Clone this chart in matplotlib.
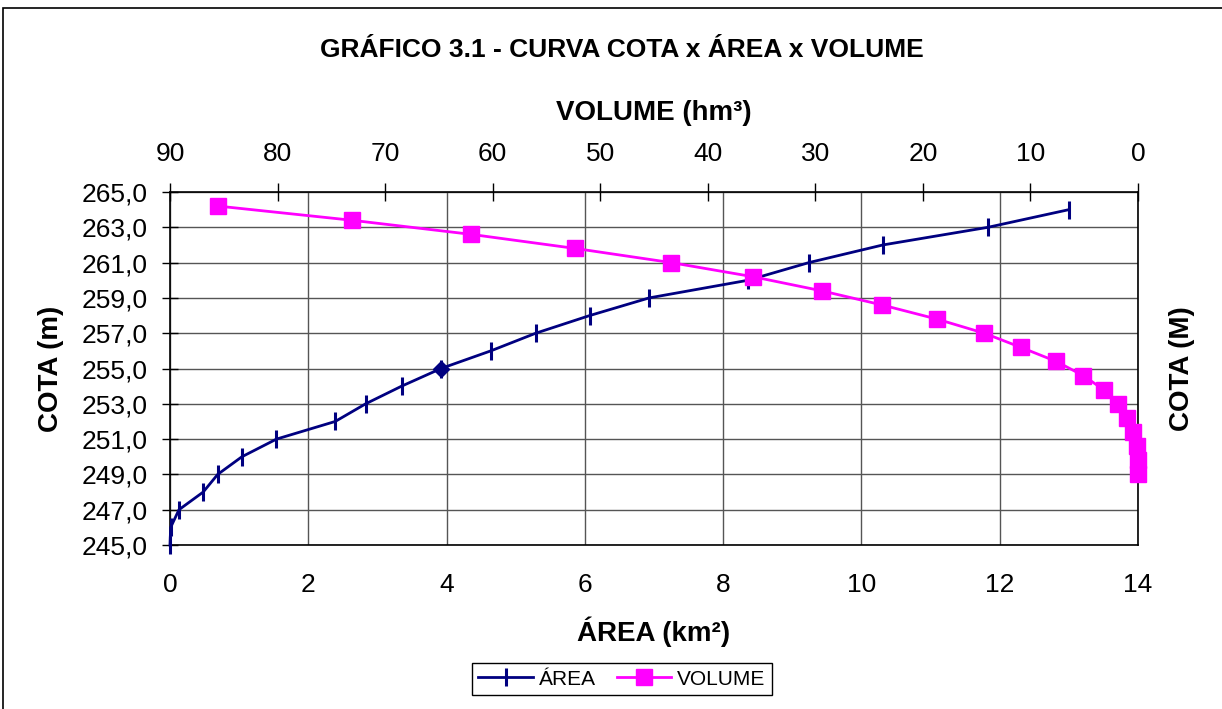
import matplotlib
matplotlib.use("Agg")
import matplotlib.pyplot as plt
from matplotlib.patches import Rectangle
from matplotlib.lines import Line2D

plt.rcParams['font.family'] = ['Liberation Sans', 'DejaVu Sans']

## elevations (m) for both curves
cota = [245, 246, 247, 248, 249, 250, 251, 252, 253, 254,
        255, 256, 257, 258, 259, 260, 261, 262, 263, 264]

## area (km2) at each elevation
area = [0.0, 0.01, 0.13, 0.48, 0.69, 1.04, 1.54, 2.39, 2.83, 3.35,
        3.92, 4.64, 5.29, 6.07, 6.93, 8.36, 9.24, 10.31, 11.83, 13.0]

## volume (hm3) at each elevation
volume = [0.0, 0.02, 0.09, 0.46, 1.02, 1.86, 3.2, 5.1, 7.6, 10.9,
          14.3, 18.7, 23.8, 29.4, 35.8, 43.4, 52.3, 62.0, 73.1, 85.5]

y_ticks = [245, 247, 249, 251, 253, 255, 257, 259, 261, 263, 265]
y_labels = ["245,0", "247,0", "249,0", "251,0", "253,0", "255,0",
            "257,0", "259,0", "261,0", "263,0", "265,0"]
x_ticks = [0, 2, 4, 6, 8, 10, 12, 14]
vol_ticks = [90, 80, 70, 60, 50, 40, 30, 20, 10, 0]

blue = "#000080"
pink = "#FF00FF"

fig = plt.figure(figsize=(12.22, 7.09), dpi=100)
pos = [0.1391, 0.2313, 0.7922, 0.4979]

## primary axes: area
ax = fig.add_axes(pos)
ax.set_xlim(0, 14)
ax.set_ylim(245, 265)
ax.set_xticks(x_ticks)
ax.set_yticks(y_ticks)
ax.set_yticklabels(y_labels)
ax.grid(True, color="#555555", linewidth=1.0)
ax.set_axisbelow(True)
ax.tick_params(axis='x', length=0, labelsize=19, pad=20)
ax.tick_params(axis='y', direction='inout', length=11.5, width=1, labelsize=19, pad=10)
for s in ax.spines.values():
    s.set_linewidth(1.2)
ax.set_xlabel("ÁREA (km²)", fontsize=20, fontweight='bold', labelpad=14)
ax.set_ylabel("COTA (m)", fontsize=20, fontweight='bold', labelpad=13)

ax.plot(area, cota, color=blue, linewidth=2, marker='|', markersize=13,
        markeredgewidth=2.2, clip_on=False, zorder=3)
i255 = cota.index(255)
ax.plot(area[i255], cota[i255], marker='D', color=blue, markersize=8, zorder=4)

## secondary axes: volume (top x, right y)
ax2 = fig.add_axes(pos, frameon=False)
ax2.set_xlim(90, 0)
ax2.set_ylim(240, 265)
ax2.xaxis.tick_top()
ax2.xaxis.set_label_position('top')
ax2.set_xticks(vol_ticks)
ax2.tick_params(axis='x', direction='inout', length=13, width=1, labelsize=19, pad=12)
ax2.yaxis.tick_right()
ax2.yaxis.set_label_position('right')
ax2.set_yticks([])
ax2.set_xlabel("VOLUME (hm³)", fontsize=20, fontweight='bold', labelpad=16)
ax2.set_ylabel("COTA (M)", fontsize=20, fontweight='bold', labelpad=22)
ax2.plot(volume, cota, color=pink, linewidth=2, marker='s', markersize=11,
         clip_on=False, zorder=5)

fig.text(0.509, 0.9295, "GRÁFICO 3.1 - CURVA COTA x ÁREA x VOLUME",
         ha='center', va='center', fontsize=19, fontweight='bold')

handles = [Line2D([], [], color=blue, linewidth=2, marker='|', markersize=13, markeredgewidth=2.2),
           Line2D([], [], color=pink, linewidth=2, marker='s', markersize=11)]
leg = fig.legend(handles, ["ÁREA", "VOLUME"], loc='center', bbox_to_anchor=(0.509, 0.042),
                 ncol=2, fontsize=15, fancybox=False, edgecolor='black', framealpha=1,
                 handlelength=2.6, columnspacing=1.0, handletextpad=0.3, borderpad=0.3)
leg.get_frame().set_linewidth(1)

fig.patches.append(Rectangle((3 / 1222, -0.05), 1.2, 0.05 + 1 - 8 / 709,
                             transform=fig.transFigure, fill=False,
                             edgecolor='black', linewidth=1.2))

fig.savefig("out.png", dpi=100)
